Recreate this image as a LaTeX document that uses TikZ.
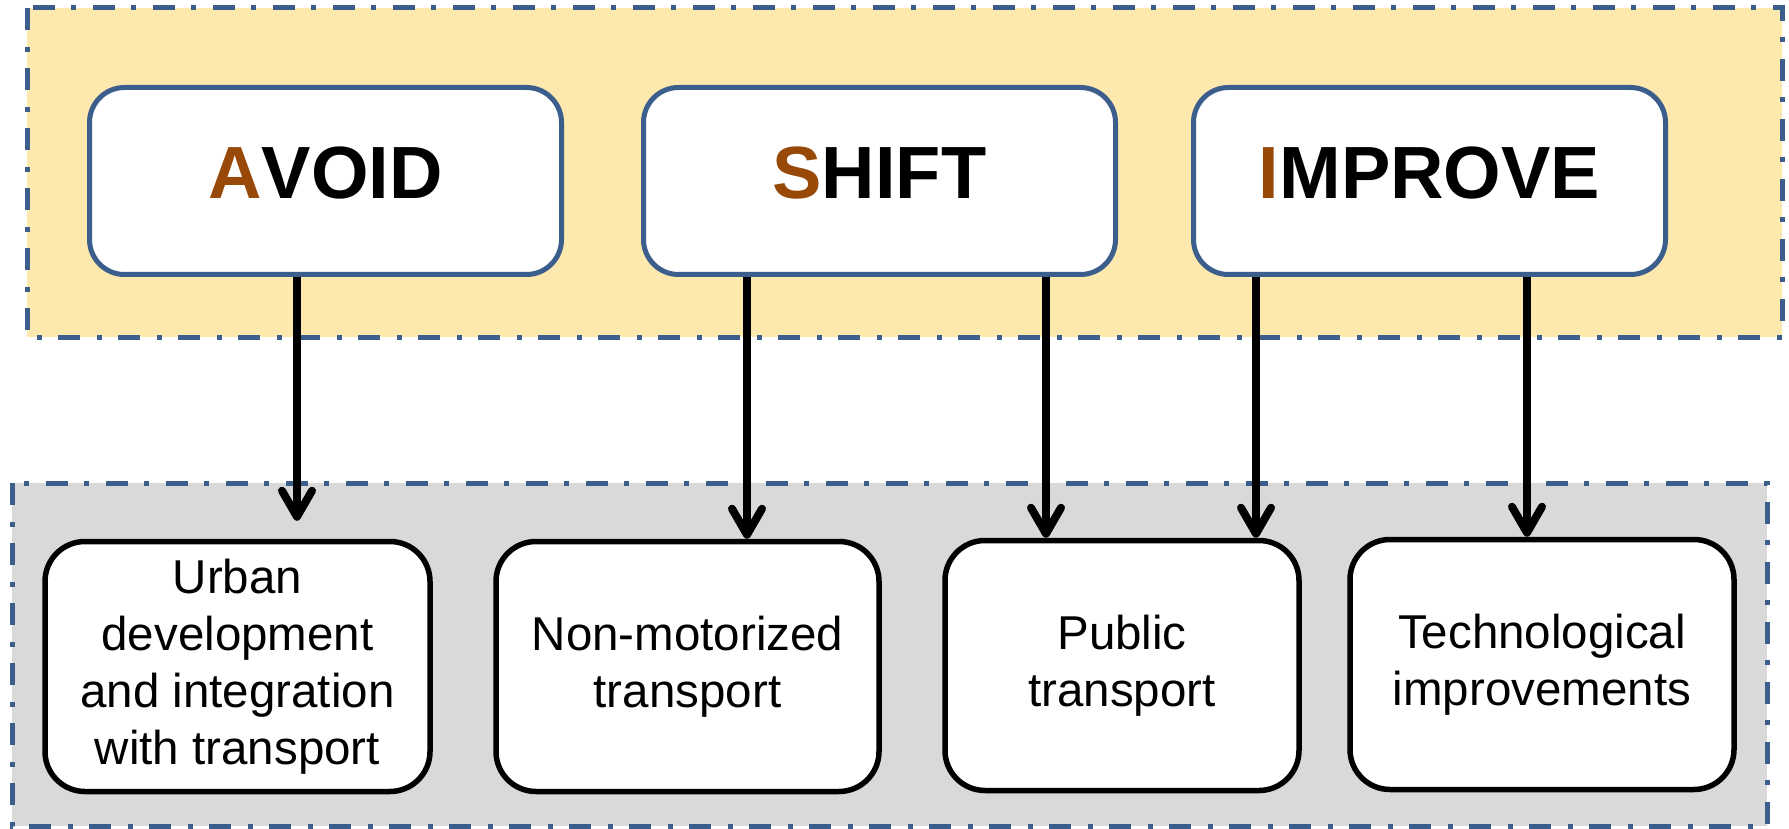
\documentclass[tikz,border=0pt]{standalone}
\usepackage{fontspec}
\setmainfont{Liberation Sans}
\usetikzlibrary{arrows.meta}

\definecolor{frameblue}{HTML}{3B5E8C}
\definecolor{bandyellow}{HTML}{FDE9AD}
\definecolor{bandgray}{HTML}{D9D9D9}
\definecolor{initial}{HTML}{984807}

\newcommand{\initial}[1]{\textcolor{initial}{#1}}

\begin{document}
\begin{tikzpicture}[x=1pt, y=-1pt,
    band/.style={draw=frameblue, line width=5pt, dash pattern=on 22pt off 17pt on 5pt off 16pt},
    lever/.style={draw=frameblue, fill=white, line width=5pt, rounded corners=35pt,
        minimum width=472pt, minimum height=187pt, text depth=16pt,
        font=\fontsize{74}{80}\selectfont\bfseries},
    measure/.style={draw=black, fill=white, line width=5.5pt, rounded corners=40pt,
        minimum height=250pt, align=center, font=\fontsize{47.5}{57}\selectfont},
    arr/.style={line width=8pt, -{Straight Barb[length=26pt, width=30pt, round]}}]
    \useasboundingbox (0,0) rectangle (1789,829);

    % the two bands
    \draw[band, fill=bandyellow] (27,8) rectangle (1782,337);
    \draw[band, fill=bandgray] (12,483) rectangle (1767,826);

    % strategies
    \node[lever] (avoid) at (325.5,181) {\initial{A}VOID};
    \node[lever] (shift) at (879.5,181) {\initial{S}HIFT};
    \node[lever] (improve) at (1429.5,181) {\initial{I}MPROVE};

    % measures
    \node[measure, minimum width=385pt] (urban) at (237.5,666.5) {Urban\\development\\and integration\\with transport};
    \node[measure, minimum width=383pt] (nmt) at (687.5,666.5) {Non-motorized\\transport};
    \node[measure, minimum width=354pt] (public) at (1122,665.5) {Public\\transport};
    \node[measure, minimum width=384pt] (tech) at (1542,664.5) {Technological\\improvements};

    \draw[arr, shorten >=18pt] ([xshift=-28.5pt]avoid.south) -- ([xshift=59.5pt]urban.north);
    \foreach \from/\dx/\to/\ex in {shift/-132.5/nmt/59.5, shift/166.5/public/-76,
        improve/-173.5/public/134, improve/97.5/tech/-15} {
        \draw[arr] ([xshift=\dx pt]\from.south) -- ([xshift=\ex pt]\to.north);
    }
\end{tikzpicture}
\end{document}
